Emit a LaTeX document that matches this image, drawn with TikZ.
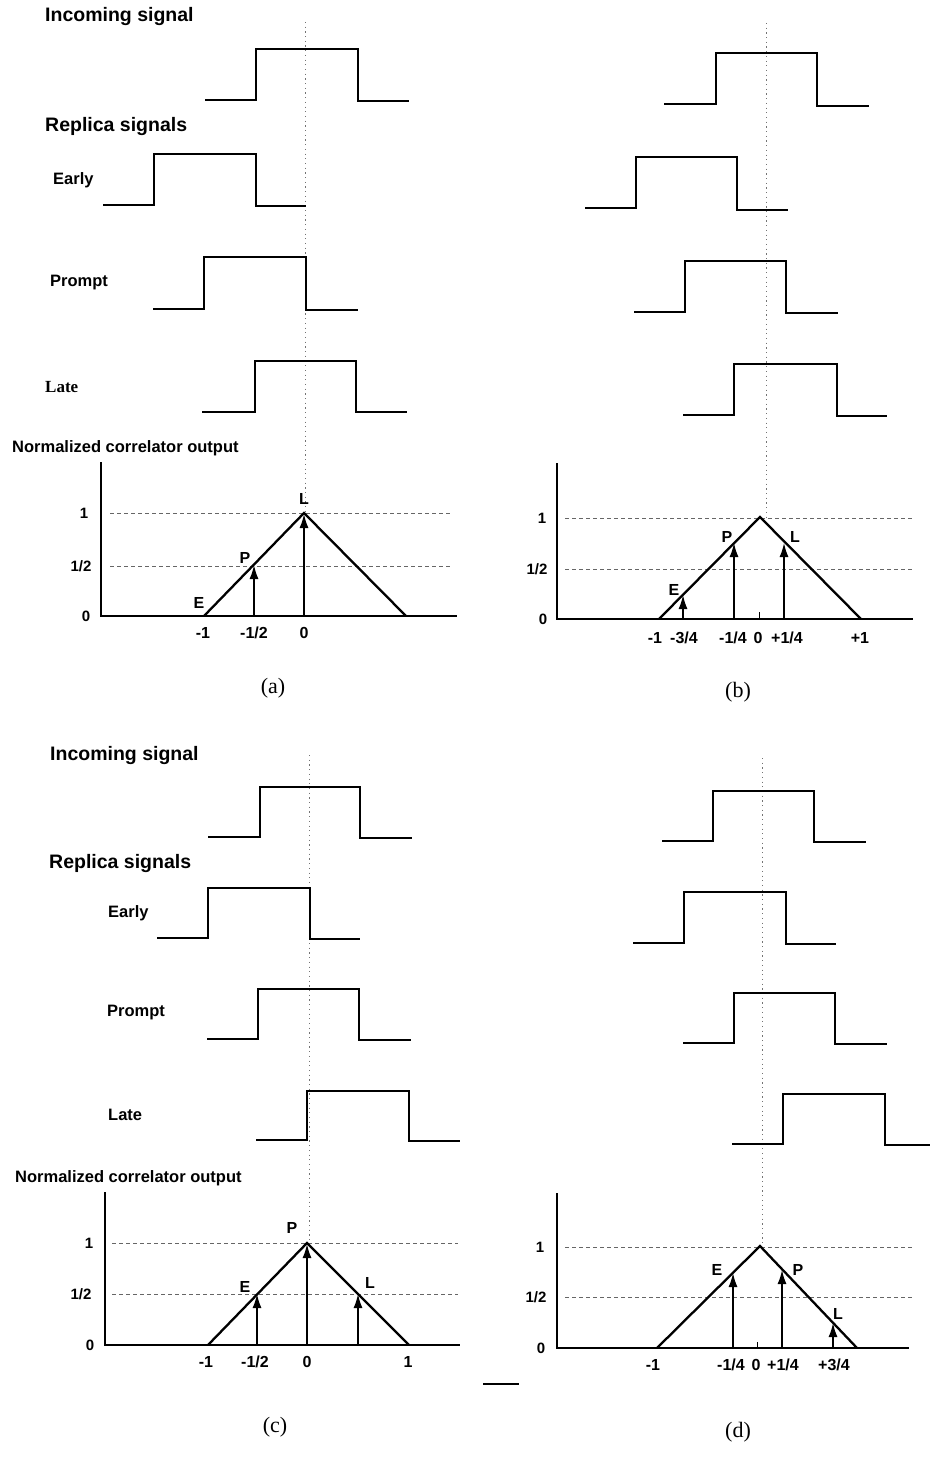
\documentclass[tikz,border=0pt]{standalone}
\usepackage{fontspec}
\setmainfont{Liberation Serif}
\setsansfont{Liberation Sans}
\usetikzlibrary{arrows.meta}
\begin{document}
\begin{tikzpicture}[x=1pt,y=-1pt,
  insig/.style={line width=2.6pt, line join=miter, line cap=butt},
  sig/.style={line width=2.1pt, line join=miter, line cap=butt},
  ax/.style={line width=1.8pt, line cap=butt},
  tri/.style={line width=2.3pt, line join=miter},
  lvl/.style={black!60, line width=0.9pt, dash pattern=on 4pt off 3pt},
  cen/.style={black!55, line width=0.8pt, dash pattern=on 1.2pt off 3.5pt},
  corr/.style={-{Latex[length=14pt,width=9pt]}, line width=1.5pt},
  headtxt/.style={font=\fontsize{19.5}{19.5}\selectfont\sffamily\bfseries, anchor=west, inner sep=0pt},
  sigtxt/.style={font=\fontsize{16.5}{16.5}\selectfont\sffamily\bfseries, anchor=west, inner sep=0pt},
  labtxt/.style={font=\fontsize{16}{16}\selectfont\sffamily\bfseries, inner sep=0pt},
  ytxt/.style={font=\fontsize{15}{15}\selectfont\sffamily\bfseries, inner sep=0pt},
  captxt/.style={font=\fontsize{22}{22}\selectfont\rmfamily, inner sep=0pt}
]
\useasboundingbox (0,0) rectangle (931,1458);

% ================= Panel (a) =================
\draw[cen] (305,22) -- (305,513);
\node[headtxt] (inA) at (45,17) {Incoming signal};
\draw[insig] (205,100) -- (256,100) -- (256,49) -- (358,49) -- (358,101) -- (409,101);
\node[headtxt] (repA) at (45,127) {Replica signals};
\node[sigtxt] (earlyA) at (53,180) {Early};
\draw[sig] (103,205) -- (154,205) -- (154,154) -- (256,154) -- (256,206) -- (306,206);
\node[sigtxt] (promptA) at (50,283) {Prompt};
\draw[sig] (153,309) -- (204,309) -- (204,257) -- (306,257) -- (306,310) -- (358,310);
\node[sigtxt, font=\fontsize{17}{17}\selectfont\rmfamily\bfseries] (lateA) at (45,387) {Late};
\draw[sig] (202,412) -- (255,412) -- (255,361) -- (356,361) -- (356,412) -- (407,412);
\node[sigtxt] (normA) at (12,448) {Normalized correlator output};
\coordinate (oA) at (101,616);
\draw[ax] (101,462) -- (oA) -- (457,616);
\draw[lvl] (110,513) -- (450,513);
\draw[lvl] (110,566) -- (450,566);
\coordinate (tAl) at (204,616);
\coordinate (tAp) at (304,513);
\coordinate (tAr) at (406,616);
\draw[tri] (tAl) -- (tAp) -- (tAr);
\coordinate (aPb) at (254,616); \coordinate (aPt) at (254,565);
\coordinate (aLb) at (304,616); \coordinate (aLt) at (304,514);
\draw[corr] (aPb) -- (aPt);
\draw[corr] (aLb) -- (aLt);
\node[ytxt] (yA1) at (84,513) {1};
\node[ytxt] (yA2) at (81,566) {1/2};
\node[ytxt] (yA0) at (86,616) {0};
\node[labtxt] (EA) at (199,603) {E};
\node[labtxt] (PA) at (245,558) {P};
\node[labtxt] (LA) at (304,499) {L};
\node[labtxt] (xA1) at (203,633) {-1};
\node[labtxt] (xA2) at (254,633) {-1/2};
\node[labtxt] (xA3) at (304,633) {0};
\node[captxt] (capA) at (273,688) {(a)};

% ================= Panel (b) =================
\draw[cen] (766,23) -- (766,517);
\draw[insig] (664,104) -- (716,104) -- (716,53) -- (817,53) -- (817,106) -- (869,106);
\draw[sig] (585,208) -- (636,208) -- (636,157) -- (737,157) -- (737,210) -- (788,210);
\draw[sig] (634,312) -- (685,312) -- (685,261) -- (786,261) -- (786,313) -- (838,313);
\draw[sig] (683,415) -- (734,415) -- (734,364) -- (837,364) -- (837,416) -- (887,416);
\coordinate (oB) at (557,619);
\draw[ax] (557,463) -- (oB) -- (913,619);
\draw[lvl] (565,518) -- (913,518);
\draw[lvl] (565,569) -- (913,569);
\draw[line width=1pt] (759,619) -- (759,612);
\coordinate (tBl) at (659,619);
\coordinate (tBp) at (760,517);
\coordinate (tBr) at (861,619);
\draw[tri] (tBl) -- (tBp) -- (tBr);
\coordinate (bEb) at (683,619); \coordinate (bEt) at (683,595);
\coordinate (bPb) at (734,619); \coordinate (bPt) at (734,543);
\coordinate (bLb) at (784,619); \coordinate (bLt) at (784,543);
\draw[corr] (bEb) -- (bEt);
\draw[corr] (bPb) -- (bPt);
\draw[corr] (bLb) -- (bLt);
\node[ytxt] (yB1) at (542,518) {1};
\node[ytxt] (yB2) at (537,569) {1/2};
\node[ytxt] (yB0) at (543,619) {0};
\node[labtxt] (EB) at (674,590) {E};
\node[labtxt] (PB) at (727,537) {P};
\node[labtxt] (LB) at (795,537) {L};
\node[labtxt] (xB1) at (655,638) {-1};
\node[labtxt] (xB2) at (684,638) {-3/4};
\node[labtxt] (xB3) at (733,638) {-1/4};
\node[labtxt] (xB4) at (758,638) {0};
\node[labtxt] (xB5) at (787,638) {+1/4};
\node[labtxt] (xB6) at (860,638) {+1};
\node[captxt] (capB) at (738,692) {(b)};

% ================= Panel (c) =================
\draw[cen] (309,755) -- (309,1243);
\node[headtxt] (inC) at (50,755) {Incoming signal};
\draw[insig] (208,837) -- (260,837) -- (260,787) -- (360,787) -- (360,838) -- (412,838);
\node[headtxt] (repC) at (49,863) {Replica signals};
\node[sigtxt] (earlyC) at (108,913) {Early};
\draw[sig] (157,938) -- (208,938) -- (208,888) -- (310,888) -- (310,939) -- (360,939);
\node[sigtxt] (promptC) at (107,1013) {Prompt};
\draw[sig] (207,1039) -- (258,1039) -- (258,989) -- (359,989) -- (359,1040) -- (411,1040);
\node[sigtxt] (lateC) at (108,1115) {Late};
\draw[sig] (256,1140) -- (307,1140) -- (307,1091) -- (409,1091) -- (409,1141) -- (460,1141);
\node[sigtxt] (normC) at (15,1178) {Normalized correlator output};
\coordinate (oC) at (105,1345);
\draw[ax] (105,1192) -- (oC) -- (460,1345);
\draw[lvl] (112,1243) -- (458,1243);
\draw[lvl] (112,1294) -- (458,1294);
\coordinate (tCl) at (208,1345);
\coordinate (tCp) at (307,1243);
\coordinate (tCr) at (409,1345);
\draw[tri] (tCl) -- (tCp) -- (tCr);
\coordinate (cEb) at (257,1345); \coordinate (cEt) at (257,1294);
\coordinate (cPb) at (307,1345); \coordinate (cPt) at (307,1244);
\coordinate (cLb) at (358,1345); \coordinate (cLt) at (358,1294);
\draw[corr] (cEb) -- (cEt);
\draw[corr] (cPb) -- (cPt);
\draw[corr] (cLb) -- (cLt);
\node[ytxt] (yC1) at (89,1243) {1};
\node[ytxt] (yC2) at (81,1294) {1/2};
\node[ytxt] (yC0) at (90,1345) {0};
\node[labtxt] (EC) at (245,1287) {E};
\node[labtxt] (PC) at (292,1228) {P};
\node[labtxt] (LC) at (370,1283) {L};
\node[labtxt] (xC1) at (206,1362) {-1};
\node[labtxt] (xC2) at (255,1362) {-1/2};
\node[labtxt] (xC3) at (307,1362) {0};
\node[labtxt] (xC4) at (408,1362) {1};
\node[captxt] (capC) at (275,1427) {(c)};

% ================= Panel (d) =================
\draw[cen] (762,758) -- (762,1246);
\draw[insig] (662,841) -- (713,841) -- (713,791) -- (814,791) -- (814,842) -- (866,842);
\draw[sig] (633,943) -- (684,943) -- (684,892) -- (786,892) -- (786,944) -- (836,944);
\draw[sig] (683,1043) -- (734,1043) -- (734,993) -- (835,993) -- (835,1044) -- (887,1044);
\draw[sig] (732,1144) -- (783,1144) -- (783,1094) -- (885,1094) -- (885,1145) -- (930,1145);
\coordinate (oD) at (557,1348);
\draw[ax] (557,1193) -- (oD) -- (909,1348);
\draw[lvl] (565,1247) -- (912,1247);
\draw[lvl] (565,1297) -- (912,1297);
\draw[line width=1pt] (757,1348) -- (757,1342);
\coordinate (tDl) at (657,1348);
\coordinate (tDp) at (760,1246);
\coordinate (tDr) at (857,1348);
\draw[tri] (tDl) -- (tDp) -- (tDr);
\coordinate (dEb) at (733,1348); \coordinate (dEt) at (733,1273);
\coordinate (dPb) at (782,1348); \coordinate (dPt) at (782,1270);
\coordinate (dLb) at (833,1348); \coordinate (dLt) at (833,1323);
\draw[corr] (dEb) -- (dEt);
\draw[corr] (dPb) -- (dPt);
\draw[corr] (dLb) -- (dLt);
\node[ytxt] (yD1) at (540,1247) {1};
\node[ytxt] (yD2) at (536,1297) {1/2};
\node[ytxt] (yD0) at (541,1348) {0};
\node[labtxt] (ED) at (717,1270) {E};
\node[labtxt] (PD) at (798,1270) {P};
\node[labtxt] (LD) at (838,1314) {L};
\node[labtxt] (xD1) at (653,1365) {-1};
\node[labtxt] (xD2) at (731,1365) {-1/4};
\node[labtxt] (xD3) at (756,1365) {0};
\node[labtxt] (xD4) at (783,1365) {+1/4};
\node[labtxt] (xD5) at (834,1365) {+3/4};
\node[captxt] (capD) at (738,1432) {(d)};

% stray mark
\coordinate (sm1) at (483,1384);
\coordinate (sm2) at (519,1384);
\draw[line width=1.8pt] (sm1) -- (sm2);
\end{tikzpicture}
\end{document}
